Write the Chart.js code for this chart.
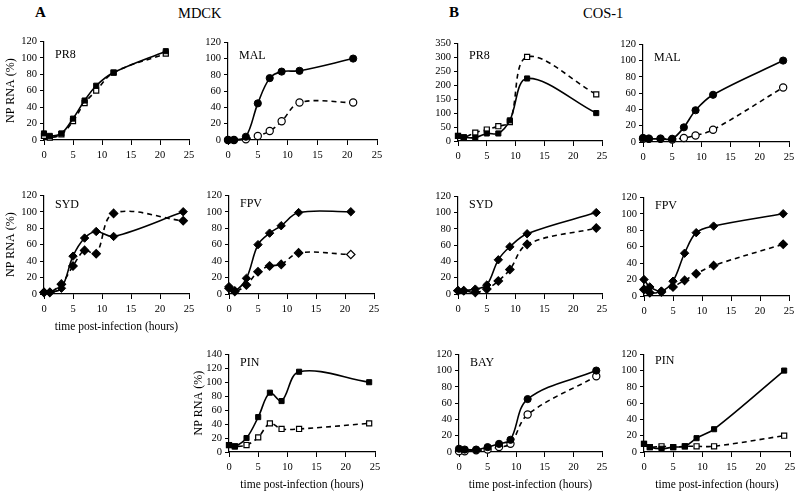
<!DOCTYPE html>
<html>
<head>
<meta charset="utf-8">
<script src="https://cdn.jsdelivr.net/npm/chart.js@4.4.0/dist/chart.umd.min.js"></script>
<style>
    body { margin: 0; background: #fff; }
    #page { position: relative; width: 800px; height: 499px; overflow: hidden; background: #fff;
            font-family: 'Liberation Serif', 'DejaVu Serif', serif; color: #000; }
    #page canvas { position: absolute; }
    .head { position: absolute; font-size: 14.5px; line-height: 16px; }
    .letter { font-weight: bold; font-size: 15px; }
</style>
</head>
<body>
<div id="page">
    <div class="head letter" style="left:35px; top:4px">A</div>
    <div class="head" style="left:178px; top:5px">MDCK</div>
    <div class="head letter" style="left:449px; top:4px">B</div>
    <div class="head" style="left:583px; top:5px">COS-1</div>
</div>
<script>
// tick labels
const xTicks = [0, 5, 10, 15, 20, 25];
const yTicks120 = [0, 20, 40, 60, 80, 100, 120];
const yTicks140 = [0, 20, 40, 60, 80, 100, 120, 140];
const yTicks350 = [0, 50, 100, 150, 200, 250, 300, 350];

// sampling times (hours post-infection)
const hours21 = [0, 1, 3, 5, 7, 9, 12, 21];
const hours24 = [0, 1, 3, 5, 7, 9, 12, 24];

// A - MDCK, NP RNA (%)
const mdckPr8Solid = [8, 5, 8, 26, 48, 66, 82, 108];
const mdckPr8Dashed = [5, 3, 7, 23, 45, 60, 82, 105];
const mdckMalSolid = [0, 0, 4, 45, 76, 84, 85, 100];
const mdckMalDashed = [0, 0, 1, 5, 11, 23, 46, 46];
const mdckSydSolid = [2, 2, 7, 46, 68, 76, 70, 100];
const mdckSydDashed = [2, 2, 12, 34, 53, 49, 98, 89];
const mdckFpvSolid = [9, 4, 19, 60, 74, 83, 99, 100];
const mdckFpvDashed = [7, 3, 11, 27, 34, 36, 50, 48];
const mdckPinSolid = [10, 8, 20, 50, 85, 73, 115, 100];
const mdckPinDashed = [10, 8, 10, 21, 41, 33, 33, 41];

// B - COS-1, NP RNA (%)
const cosPr8Solid = [18, 13, 12, 27, 27, 74, 224, 100];
const cosPr8Dashed = [18, 13, 30, 41, 53, 68, 301, 167];
const cosMalSolid = [5, 4, 4, 4, 18, 39, 58, 100];
const cosMalDashed = [4, 4, 4, 3, 5, 8, 15, 67];
const cosSydSolid = [4, 4, 6, 11, 42, 58, 74, 100];
const cosSydDashed = [4, 4, 2, 6, 16, 30, 61, 81];
const cosFpvSolid = [20, 11, 6, 18, 52, 77, 85, 100];
const cosFpvDashed = [8, 4, 5, 11, 19, 27, 37, 63];
const cosBaySolid = [4, 3, 3, 6, 10, 15, 65, 100];
const cosBayDashed = [1, 1, 2, 3, 6, 10, 46, 93];
const cosPinSolid = [10, 6, 4, 6, 7, 17, 28, 100];
const cosPinDashed = [10, 6, 7, 6, 7, 7, 7, 20];

const FONT = "'Liberation Serif', 'DejaVu Serif', serif";

// plot area boxes [left, top, right, bottom] in page pixels
const panels = [
    { name: 'PR8', box: [44, 40, 189, 140], hours: hours21, solid: mdckPr8Solid, dashed: mdckPr8Dashed,
      marker: 'rect', open: 'all', yTicks: yTicks120, yTitle: 44, labelY: 17 },
    { name: 'MAL', box: [228, 41, 377, 140], hours: hours21, solid: mdckMalSolid, dashed: mdckMalDashed,
      marker: 'circle', open: 'all', yTicks: yTicks120, labelY: 17 },
    { name: 'SYD', box: [44, 194, 189, 294], hours: hours24, solid: mdckSydSolid, dashed: mdckSydDashed,
      marker: 'rectRot', open: 'none', yTicks: yTicks120, yTitle: 44, xTitle: true, labelY: 13 },
    { name: 'FPV', box: [229, 194, 374, 294], hours: hours21, solid: mdckFpvSolid, dashed: mdckFpvDashed,
      marker: 'rectRot', open: 'last', yTicks: yTicks120, labelY: 12 },
    { name: 'PIN', box: [229, 353, 375, 452], hours: hours24, solid: mdckPinSolid, dashed: mdckPinDashed,
      marker: 'rect', open: 'all', yTicks: yTicks140, yTitle: 41, xTitle: true, labelY: 12 },
    { name: 'PR8', box: [458, 42, 602, 141], hours: hours24, solid: cosPr8Solid, dashed: cosPr8Dashed,
      marker: 'rect', open: 'all', yTicks: yTicks350, labelY: 16 },
    { name: 'MAL', box: [643, 43, 789, 142], hours: hours24, solid: cosMalSolid, dashed: cosMalDashed,
      marker: 'circle', open: 'all', yTicks: yTicks120, labelY: 17 },
    { name: 'SYD', box: [458, 195, 602, 294], hours: hours24, solid: cosSydSolid, dashed: cosSydDashed,
      marker: 'rectRot', open: 'none', yTicks: yTicks120, labelY: 12 },
    { name: 'FPV', box: [644, 196, 789, 296], hours: hours24, solid: cosFpvSolid, dashed: cosFpvDashed,
      marker: 'rectRot', open: 'none', yTicks: yTicks120, labelY: 12 },
    { name: 'BAY', box: [459, 353, 602, 452], hours: hours24, solid: cosBaySolid, dashed: cosBayDashed,
      marker: 'circle', open: 'all', yTicks: yTicks120, xTitle: true, labelY: 12 },
    { name: 'PIN', box: [644, 353, 790, 452], hours: hours24, solid: cosPinSolid, dashed: cosPinDashed,
      marker: 'rect', open: 'all', yTicks: yTicks120, xTitle: true, labelY: 10 },
];

// draws the strain name inside the plot area
const panelLabel = {
    id: 'panelLabel',
    afterDraw(chart, args, opts) {
        const { ctx, chartArea } = chart;
        ctx.save();
        ctx.font = '12px ' + FONT;
        ctx.fillStyle = '#000';
        ctx.textBaseline = 'alphabetic';
        ctx.fillText(opts.text, chartArea.left + 11, chartArea.top + opts.dy);
        ctx.restore();
    }
};

function toPoints(hours, values) {
    return hours.map(function (h, i) {
        return { x: h, y: values[i] };
    });
}

function makePanel(p) {
    const padTop = 8, padRight = 10;
    const yw = p.yTitle || 30;
    const xh = p.xTitle ? 44 : 24;
    const [l, t, r, b] = p.box;
    const canvas = document.createElement('canvas');
    canvas.width = (r - l) + yw + padRight;
    canvas.height = (b - t) + padTop + xh;
    canvas.style.left = (l - yw) + 'px';
    canvas.style.top = (t - padTop) + 'px';
    document.getElementById('page').appendChild(canvas);

    const n = p.hours.length;
    let openFill;
    if (p.open === 'all') openFill = '#fff';
    else if (p.open === 'last') openFill = p.dashed.map(function (v, i) { return i === n - 1 ? '#fff' : '#000'; });
    else openFill = '#000';
    const radius = p.marker === 'rectRot' ? 4.2 : 3.6;

    const tickFont = { family: FONT, size: 10.5 };
    const yMax = p.yTicks[p.yTicks.length - 1];

    new Chart(canvas, {
        type: 'line',
        data: {
            datasets: [
                {
                    data: toPoints(p.hours, p.solid),
                    borderColor: '#000',
                    borderWidth: 1.6,
                    pointStyle: p.marker,
                    pointRadius: radius,
                    pointBackgroundColor: '#000',
                    pointBorderColor: '#000',
                    pointBorderWidth: 1,
                    tension: 0.35,
                    clip: false
                },
                {
                    data: toPoints(p.hours, p.dashed),
                    borderColor: '#000',
                    borderWidth: 1.6,
                    borderDash: [5, 4],
                    pointStyle: p.marker,
                    pointRadius: radius,
                    pointBackgroundColor: openFill,
                    pointBorderColor: '#000',
                    pointBorderWidth: 1.2,
                    tension: 0.35,
                    clip: false
                }
            ]
        },
        options: {
            responsive: false,
            animation: false,
            devicePixelRatio: 1,
            layout: { padding: { top: padTop, right: padRight, left: 0, bottom: 0 } },
            plugins: {
                legend: { display: false },
                tooltip: { enabled: false },
                panelLabel: { text: p.name, dy: p.labelY }
            },
            scales: {
                x: {
                    type: 'linear',
                    min: 0,
                    max: 25,
                    afterBuildTicks: function (scale) {
                        scale.ticks = xTicks.map(function (v) { return { value: v }; });
                    },
                    afterFit: function (scale) { scale.height = xh; },
                    grid: { display: true, drawOnChartArea: false, tickLength: 5, color: '#000' },
                    border: { display: true, color: '#000', width: 1.2 },
                    ticks: { color: '#000', font: tickFont, padding: 4, maxRotation: 0, autoSkip: false },
                    title: {
                        display: !!p.xTitle,
                        text: 'time post-infection (hours)',
                        color: '#000',
                        font: { family: FONT, size: 11.5 },
                        padding: { top: 0, bottom: 4 }
                    }
                },
                y: {
                    type: 'linear',
                    min: 0,
                    max: yMax,
                    afterBuildTicks: function (scale) {
                        scale.ticks = p.yTicks.map(function (v) { return { value: v }; });
                    },
                    afterFit: function (scale) { scale.width = yw; },
                    grid: { display: true, drawOnChartArea: false, tickLength: 4, color: '#000' },
                    border: { display: true, color: '#000', width: 1.2 },
                    ticks: { color: '#000', font: tickFont, padding: 3, autoSkip: false },
                    title: {
                        display: !!p.yTitle,
                        text: 'NP RNA (%)',
                        color: '#000',
                        font: { family: FONT, size: 12 },
                        padding: { top: 4, bottom: 0 }
                    }
                }
            }
        },
        plugins: [panelLabel]
    });
}

panels.forEach(makePanel);
</script>
</body>
</html>
